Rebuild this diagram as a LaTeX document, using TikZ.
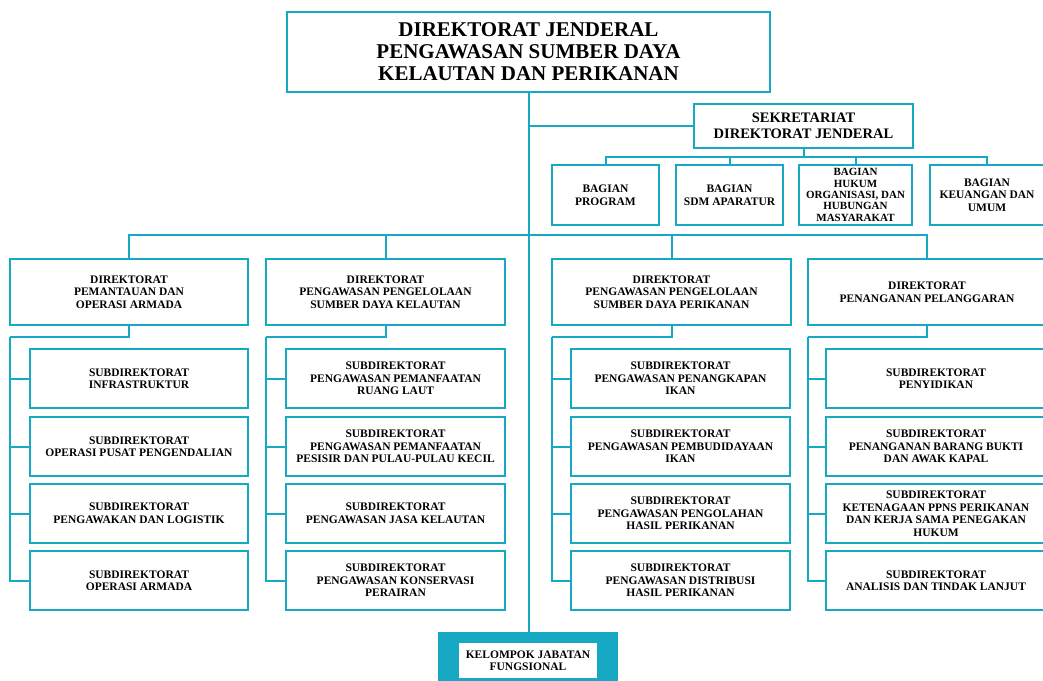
\documentclass[tikz,border=0pt]{standalone}
\usepackage{fontspec}
\setmainfont{Liberation Serif}
\definecolor{tl}{HTML}{17A9C4}
\begin{document}
\begin{tikzpicture}[x=1pt,y=-1pt,
  box/.style={draw=tl, line width=2pt, fill=white, align=center, inner sep=0pt,
    font=\fontsize{11.5}{12.5}\selectfont\bfseries},
  ln/.style={draw=tl, line width=2pt},
  dbox/.style={box, minimum width=238, minimum height=66},
  sbox/.style={box, minimum width=219, minimum height=59},
  bbox/.style={box, minimum height=60}]
\useasboundingbox (0,0) rectangle (1043,680);

% top
\node[box, minimum width=483, minimum height=80, font=\fontsize{21}{22}\selectfont\bfseries] (top) at (528.5,52)
  {DIREKTORAT JENDERAL\\PENGAWASAN SUMBER DAYA\\KELAUTAN DAN PERIKANAN};
% bottom
\node[fill=tl, minimum width=180, minimum height=50, inner sep=0pt] (kjf) at (528,657) {};
\node[fill=white, minimum width=138, minimum height=35, inner sep=0pt, align=center,
  font=\fontsize{11.5}{12.5}\selectfont\bfseries] (kjft) at (528,660.5) {KELOMPOK JABATAN\\FUNGSIONAL};
\draw[ln] (top.south) -- (top.south |- kjf.north);

% sekretariat
\node[box, minimum width=219, minimum height=44, font=\fontsize{14.5}{16}\selectfont\bfseries] (sek) at (803.5,126)
  {SEKRETARIAT\\DIREKTORAT JENDERAL};
\draw[ln] (sek.west) -- (sek.west -| top.south);

\node[bbox, minimum width=107] (bag1) at (605.5,195) {BAGIAN\\PROGRAM};
\node[bbox, minimum width=107] (bag2) at (729.5,195) {BAGIAN\\SDM APARATUR};
\node[bbox, minimum width=113, font=\fontsize{11}{11.3}\selectfont\bfseries] (bag3) at (855.5,195) {BAGIAN\\HUKUM\\ORGANISASI, DAN\\HUBUNGAN\\MASYARAKAT};
\node[bbox, minimum width=114] (bag4) at (987,195) {BAGIAN\\KEUANGAN DAN\\UMUM};
\coordinate (bb) at (803.5,157);
\draw[ln] (sek.south) -- (bb);
\foreach \n in {bag1,bag2,bag3,bag4} \draw[ln] (\n.north) |- (bb);

% direktorat
\node[dbox] (dA) at (129,292) {DIREKTORAT\\PEMANTAUAN DAN\\OPERASI ARMADA};
\node[dbox, minimum width=239] (dB) at (385.5,292) {DIREKTORAT\\PENGAWASAN PENGELOLAAN\\SUMBER DAYA KELAUTAN};
\node[dbox, minimum width=239] (dC) at (671.5,292) {DIREKTORAT\\PENGAWASAN PENGELOLAAN\\SUMBER DAYA PERIKANAN};
\node[dbox] (dD) at (927,292) {DIREKTORAT\\PENANGANAN PELANGGARAN};
\coordinate (db) at (528,235);
\foreach \n in {dA,dB,dC,dD} \draw[ln] (\n.north) |- (db);

% subdirektorat A
\node[sbox, minimum width=218] (a1) at (139,378.5) {SUBDIREKTORAT\\INFRASTRUKTUR};
\node[sbox, minimum width=218] (a2) at (139,446.5) {SUBDIREKTORAT\\OPERASI PUSAT PENGENDALIAN};
\node[sbox, minimum width=218] (a3) at (139,513.5) {SUBDIREKTORAT\\PENGAWAKAN DAN LOGISTIK};
\node[sbox, minimum width=218] (a4) at (139,580.5) {SUBDIREKTORAT\\OPERASI ARMADA};
% B
\node[sbox] (b1) at (395.5,378.5) {SUBDIREKTORAT\\PENGAWASAN PEMANFAATAN\\RUANG LAUT};
\node[sbox] (b2) at (395.5,446.5) {SUBDIREKTORAT\\PENGAWASAN PEMANFAATAN\\PESISIR DAN PULAU-PULAU KECIL};
\node[sbox] (b3) at (395.5,513.5) {SUBDIREKTORAT\\PENGAWASAN JASA KELAUTAN};
\node[sbox] (b4) at (395.5,580.5) {SUBDIREKTORAT\\PENGAWASAN KONSERVASI\\PERAIRAN};
% C
\node[sbox] (c1) at (680.5,378.5) {SUBDIREKTORAT\\PENGAWASAN PENANGKAPAN\\IKAN};
\node[sbox] (c2) at (680.5,446.5) {SUBDIREKTORAT\\PENGAWASAN PEMBUDIDAYAAN\\IKAN};
\node[sbox] (c3) at (680.5,513.5) {SUBDIREKTORAT\\PENGAWASAN PENGOLAHAN\\HASIL PERIKANAN};
\node[sbox] (c4) at (680.5,580.5) {SUBDIREKTORAT\\PENGAWASAN DISTRIBUSI\\HASIL PERIKANAN};
% D
\node[sbox, minimum width=220] (e1) at (936,378.5) {SUBDIREKTORAT\\PENYIDIKAN};
\node[sbox, minimum width=220] (e2) at (936,446.5) {SUBDIREKTORAT\\PENANGANAN BARANG BUKTI\\DAN AWAK KAPAL};
\node[sbox, minimum width=220] (e3) at (936,513.5) {SUBDIREKTORAT\\KETENAGAAN PPNS PERIKANAN\\DAN KERJA SAMA PENEGAKAN\\HUKUM};
\node[sbox, minimum width=220] (e4) at (936,580.5) {SUBDIREKTORAT\\ANALISIS DAN TINDAK LANJUT};

\coordinate (busA) at (10,337);
\coordinate (busB) at (266,337);
\coordinate (busC) at (552,337);
\coordinate (busD) at (808,337);
\foreach \d/\b/\s in {dA/busA/a,dB/busB/b,dC/busC/c,dD/busD/e}{
  \draw[ln] (\d.south) |- (\b);
  \draw[ln] (\b) |- (\s4.west);
  \foreach \i in {1,2,3} \draw[ln] (\s\i.west) -- (\s\i.west -| \b);
}
\end{tikzpicture}
\end{document}
